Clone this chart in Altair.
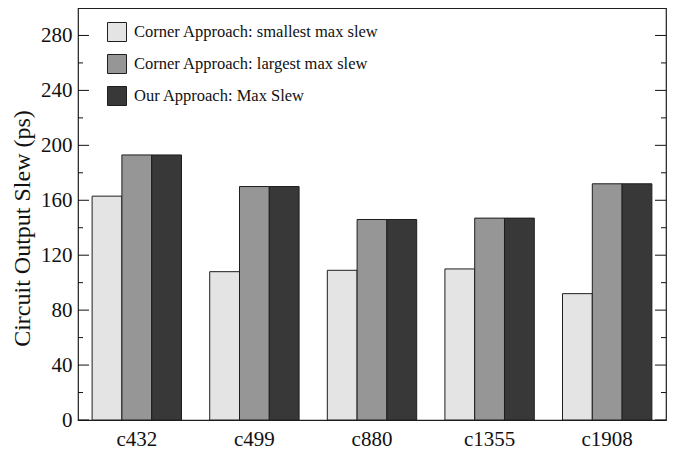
import altair as alt
import pandas as pd

categories = ["c432", "c499", "c880", "c1355", "c1908"]
series_names = [
    "Corner Approach: smallest max slew",
    "Corner Approach: largest max slew",
    "Our Approach: Max Slew",
]
smallest = [163, 108, 109, 110, 92]
largest = [193, 170, 146, 147, 172]
ours = [193, 170, 146, 147, 172]
major_ticks = [0, 40, 80, 120, 160, 200, 240, 280]
minor_ticks = [20, 60, 100, 140, 180, 220, 260]
fills = ["#e4e4e4", "#969696", "#383838"]

rows = []
for i, c in enumerate(categories):
    for k, vals in enumerate([smallest, largest, ours]):
        rows.append({"cat": c, "series": series_names[k], "order": k, "value": vals[i]})
df = pd.DataFrame(rows)

major_df = pd.DataFrame({"value": major_ticks})
minor_df = pd.DataFrame({"value": minor_ticks})

W, H = 588, 412
FONT = "Liberation Serif, Times New Roman, serif"

yscale = alt.Scale(domain=[0, 300], nice=False, zero=True)
yaxis = alt.Axis(
    title="Circuit Output Slew (ps)", values=major_ticks, ticks=False,
    domain=False, grid=False, labelFont=FONT, labelFontSize=21,
    labelColor="#111", labelPadding=6, titleFont=FONT, titleFontSize=24,
    titleFontWeight="normal", titleColor="#111", titlePadding=6, titleY=220,
)

bars = alt.Chart(df).mark_bar(stroke="#1e1e1e", strokeWidth=1).encode(
    x=alt.X(
        "cat:N",
        sort=categories,
        scale=alt.Scale(paddingInner=0.24, paddingOuter=0.12),
        axis=alt.Axis(
            title=None, ticks=False, domain=False, labelAngle=0,
            labelFont=FONT, labelFontSize=21, labelColor="#111", labelPadding=8,
        ),
    ),
    xOffset=alt.XOffset("series:N", sort=series_names),
    y=alt.Y("value:Q", scale=yscale, axis=yaxis),
    color=alt.Color(
        "series:N",
        sort=series_names,
        scale=alt.Scale(domain=series_names, range=fills),
        legend=alt.Legend(
            title=None, orient="none", legendX=29, legendY=14,
            symbolType="square", symbolSize=361, symbolStrokeColor="#1e1e1e",
            symbolStrokeWidth=1, symbolOpacity=1, labelFont=FONT, labelFontSize=16.5,
            labelColor="#111", rowPadding=8, labelOffset=7, padding=0, labelLimit=0,
        ),
    ),
)


def tick_layer(data, x0, x1):
    return alt.Chart(data).mark_rule(color="#111", strokeWidth=1).encode(
        y=alt.Y("value:Q", scale=yscale, axis=yaxis),
        x=alt.value(x0),
        x2=alt.value(x1),
    )


chart = alt.layer(
    bars,
    tick_layer(major_df, 0, 11),
    tick_layer(minor_df, 0, 5),
    tick_layer(major_df, W - 11, W),
    tick_layer(minor_df, W - 5, W),
).properties(
    width=W, height=H,
    autosize=alt.AutoSizeParams(type="none"),
    padding={"left": 70, "top": 0, "right": 3, "bottom": 37},
    background="white",
).configure_view(stroke="#1e1e1e", strokeWidth=1.2)

chart.save("out.html", embed_options={"renderer": "svg", "actions": False})
